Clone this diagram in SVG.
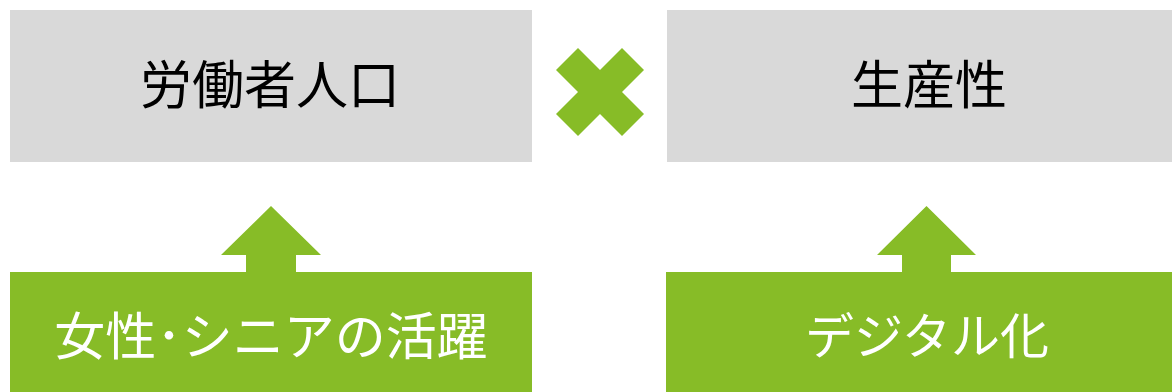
<svg xmlns="http://www.w3.org/2000/svg" width="1172" height="392" viewBox="0 0 1172 392">
  <style>
    .gray { fill: #d9d9d9; }
    .green { fill: #87bc27; }
    .lbl { font-family: "Noto Sans CJK JP", "Noto Sans CJK SC", sans-serif; font-size: 51px; text-anchor: middle; }
    .top { font-size: 52px; }
    .small { font-size: 49px; }
    .dark { fill: #000000; }
    .light { fill: #ffffff; }
  </style>
  <rect width="1172" height="392" fill="#ffffff"/>
  <g id="node-labor">
    <rect class="gray" x="10" y="10" width="522" height="152"/>
    <text class="lbl top dark" x="270" y="104">労働者人口</text>
  </g>
  <g id="node-productivity">
    <rect class="gray" x="667" y="10" width="522" height="152"/>
    <text class="lbl top dark" x="929" y="104">生産性</text>
  </g>
  <g id="node-times">
    <polygon class="green" points="600,70 622,48 644,70 622,92 644,114 622,136 600,114 578,136 556,114 578,92 556,70 578,48"/>
  </g>
  <g id="node-women">
    <rect class="green" x="10" y="272" width="522" height="120"/>
    <text class="lbl light" x="271" y="355">女性･シニアの活躍</text>
  </g>
  <g id="node-digital">
    <rect class="green" x="666" y="272" width="522" height="120"/>
    <text class="lbl small light" x="927" y="354">デジタル化</text>
  </g>
  <g id="connectors">
    <polygon class="green" points="271,206 321,255 296,255 296,273 246,273 246,255 221,255"/>
    <polygon class="green" points="926.5,206 976,255 951,255 951,273 902,273 902,255 877,255"/>
  </g>
</svg>
